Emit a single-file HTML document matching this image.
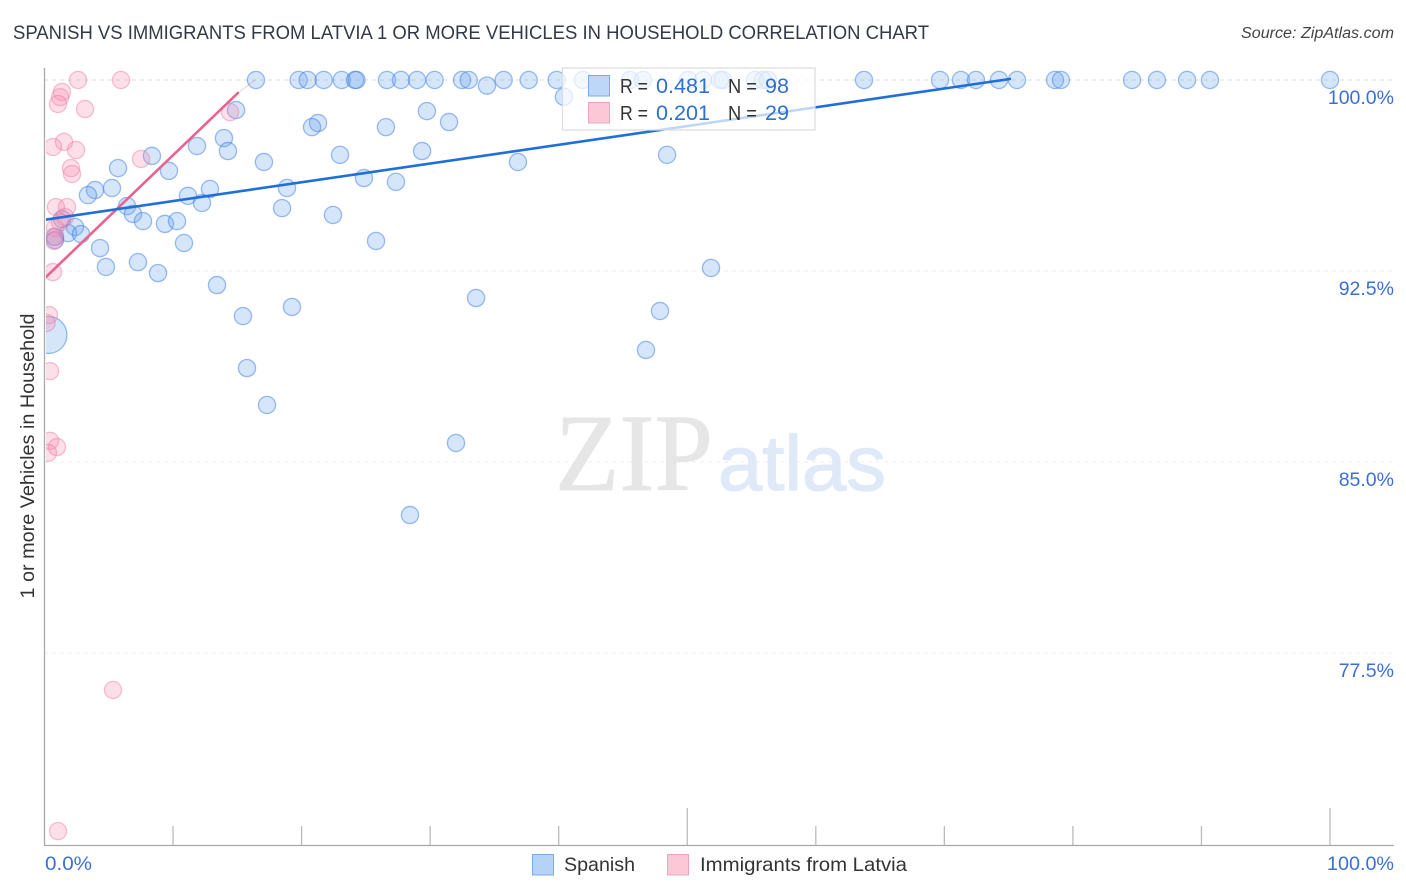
<!DOCTYPE html>
<html lang="en">
<head>
<meta charset="utf-8">
<title>Spanish vs Immigrants from Latvia correlation chart</title>
<style>
html,body{margin:0;padding:0;background:#fff;}
body{width:1406px;height:892px;overflow:hidden;font-family:"Liberation Sans",sans-serif;}
svg{display:block;}
text{font-family:"Liberation Sans",sans-serif;}
</style>
</head>
<body>
<svg id="chart" width="1406" height="892" viewBox="0 0 1406 892" xmlns="http://www.w3.org/2000/svg">
  <defs>
    <clipPath id="plot-clip"><rect x="46" y="60" width="1354" height="785"></rect></clipPath>
  </defs>
  <text x="13" y="39" font-size="19.5" fill="#333a45" textLength="916" lengthAdjust="spacingAndGlyphs">SPANISH VS IMMIGRANTS FROM LATVIA 1 OR MORE VEHICLES IN HOUSEHOLD CORRELATION CHART</text>
  <text x="1394" y="38" font-size="15.5" font-style="italic" fill="#444" text-anchor="end" textLength="153" lengthAdjust="spacingAndGlyphs">Source: ZipAtlas.com</text>

  <g id="grid"></g>

  <g>
    <text x="555" y="490" font-size="110" fill="#e6e6e6" stroke="#e6e6e6" stroke-width="0.8" textLength="158" lengthAdjust="spacingAndGlyphs" style="font-family:'Liberation Serif',serif">ZIP</text>
    <text x="718" y="490" font-size="78" fill="#dfe9f7" stroke="#dfe9f7" stroke-width="1.2" textLength="168" lengthAdjust="spacingAndGlyphs">atlas</text>
  </g>

  <g id="axes">
    <line x1="44.5" y1="68" x2="44.5" y2="845.5" stroke="#aaa" stroke-width="1.3"></line>
    <line x1="44" y1="845.5" x2="1394" y2="845.5" stroke="#aaa" stroke-width="1.3"></line>
  </g>

  <g id="points" clip-path="url(#plot-clip)"></g>
  <g id="trends" clip-path="url(#plot-clip)"></g>

  <text transform="translate(34,456) rotate(-90)" font-size="19" fill="#333" text-anchor="middle" textLength="285" lengthAdjust="spacingAndGlyphs">1 or more Vehicles in Household</text>

  <g>
    <rect x="562.5" y="68" width="252.5" height="62" fill="#fff" fill-opacity="0.72" stroke="#ddd" stroke-width="1.2"></rect>
    <rect x="588.5" y="75.5" width="21" height="20.5" fill="#b5d3f7" fill-opacity="0.9" stroke="#7fabe4"></rect>
    <rect x="588.5" y="102.5" width="21" height="20.5" fill="#fcc8d8" stroke="#f0a3bc"></rect>
    <text x="620" y="93" font-size="20" fill="#333" textLength="28" lengthAdjust="spacingAndGlyphs">R =</text>
    <text x="656" y="93" font-size="21" fill="#2f6fd0" textLength="54" lengthAdjust="spacingAndGlyphs">0.481</text>
    <text x="728" y="93" font-size="20" fill="#333" textLength="29" lengthAdjust="spacingAndGlyphs">N =</text>
    <text x="765" y="93" font-size="21" fill="#2f6fd0" textLength="24" lengthAdjust="spacingAndGlyphs">98</text>
    <text x="620" y="120" font-size="20" fill="#333" textLength="28" lengthAdjust="spacingAndGlyphs">R =</text>
    <text x="656" y="120" font-size="21" fill="#2f6fd0" textLength="54" lengthAdjust="spacingAndGlyphs">0.201</text>
    <text x="728" y="120" font-size="20" fill="#333" textLength="29" lengthAdjust="spacingAndGlyphs">N =</text>
    <text x="765" y="120" font-size="21" fill="#2f6fd0" textLength="24" lengthAdjust="spacingAndGlyphs">29</text>
  </g>

  <g>
    <rect x="532.5" y="854.5" width="21" height="20.5" fill="#b5d3f7" stroke="#7fabe4"></rect>
    <text x="564" y="871" font-size="19.5" fill="#333" textLength="71" lengthAdjust="spacingAndGlyphs">Spanish</text>
    <rect x="667.5" y="854.5" width="21" height="20.5" fill="#fcc8d8" stroke="#f0a3bc"></rect>
    <text x="700" y="871" font-size="19.5" fill="#333" textLength="207" lengthAdjust="spacingAndGlyphs">Immigrants from Latvia</text>
  </g>
</svg>
<script>
var xTickValues = [0, 10, 20, 30, 40, 50, 60, 70, 80, 90, 100];
var xMajorTicks = [50, 100];
var xEndLabels = [0, 100];
var xEndLabelText = ['0.0%', '100.0%'];
var yTickValues = [100, 92.5, 85, 77.5];
var yTickLabels = ['100.0%', '92.5%', '85.0%', '77.5%'];

var spanishX = [16.45, 19.77, 20.47, 21.72, 23.12, 24.15, 24.27, 26.64, 27.73, 28.98, 30.35, 32.48, 33.00, 35.72, 37.67, 39.84, 41.89, 45.55, 46.56, 50.06, 51.23, 52.55, 52.78, 55.27, 55.89, 56.28, 63.75, 69.66, 71.29, 72.46, 74.25, 75.65, 78.61, 79.07, 84.60, 86.54, 88.88, 90.66, 100, 34.42, 40.41, 14.90, 21.28, 20.81, 26.56, 31.47, 29.75, 13.96, 11.86, 14.27, 22.99, 29.37, 8.36, 17.07, 36.83, 48.43, 5.72, 9.68, 24.85, 27.34, 3.93, 3.38, 5.25, 18.86, 11.16, 12.87, 12.25, 18.48, 6.42, 6.88, 7.66, 9.37, 10.31, 22.44, 2.37, 1.83, 2.84, 0.82, 0.82, 1.36, 4.32, 10.85, 25.79, 4.78, 7.27, 8.83, 51.85, 13.42, 33.57, 19.25, 15.44, 47.88, 46.79, 15.75, 17.31, 32.01, 28.43];
var spanishY = [100, 100, 100, 100, 100, 100, 100, 100, 100, 100, 100, 100, 100, 100, 100, 100, 100, 100, 100, 100, 100, 100, 100, 100, 100, 100, 100, 100, 100, 100, 100, 100, 100, 100, 100, 100, 100, 100, 100, 99.78, 99.34, 98.82, 98.31, 98.15, 98.15, 98.35, 98.78, 97.72, 97.41, 97.21, 97.06, 97.21, 97.02, 96.78, 96.78, 97.06, 96.54, 96.43, 96.15, 96.00, 95.68, 95.48, 95.76, 95.76, 95.45, 95.72, 95.17, 94.97, 95.05, 94.74, 94.46, 94.35, 94.46, 94.70, 94.23, 93.99, 93.95, 93.72, 93.84, 94.54, 93.40, 93.60, 93.68, 92.66, 92.85, 92.42, 92.62, 91.95, 91.44, 91.09, 90.73, 90.93, 89.40, 88.69, 87.24, 85.75, 82.92];
var spanishLargeX = [0.31];
var spanishLargeY = [89.99];

var latviaX = [2.61, 5.95, 1.36, 1.21, 1.05, 3.15, 14.43, 1.52, 0.66, 2.45, 7.51, 2.06, 2.14, 0.89, 1.75, 1.59, 0.82, 1.21, 0.74, 0.74, 0.66, 0.35, 0.16, 0.43, 0.43, 0.97, 0.27, 5.33, 1.05];
var latviaY = [100, 100, 99.53, 99.33, 99.06, 98.86, 98.74, 97.57, 97.37, 97.25, 96.90, 96.54, 96.31, 95.01, 95.01, 94.62, 94.19, 94.42, 93.84, 93.68, 92.46, 90.77, 90.46, 88.57, 85.83, 85.59, 85.36, 76.05, 70.51];

var spanishTrendX = [0.12, 75.1];
var spanishTrendY = [94.52, 100.04];
var latviaTrendX = [0.12, 15.05];
var latviaTrendY = [92.27, 99.49];
var latviaTrendTailX = [15.05, 16.37];
var latviaTrendTailY = [99.49, 100];

var NS = 'http://www.w3.org/2000/svg';
function xScale(v) { return 44.5 + v * 12.855; }
function yScale(v) { return 80 + (100 - v) * 25.47; }
function make(tag, parent, attrs) {
  var el = document.createElementNS(NS, tag);
  for (var k in attrs) { el.setAttribute(k, attrs[k]); }
  parent.appendChild(el);
  return el;
}

var gridGroup = document.getElementById('grid');
var axesGroup = document.getElementById('axes');
var pointsGroup = document.getElementById('points');
var trendsGroup = document.getElementById('trends');

yTickValues.forEach(function (v, i) {
  var g = make('line', gridGroup, { x1: 44, x2: 1394, y1: yScale(v), y2: yScale(v), stroke: i === 0 ? '#dcdcdc' : '#ececec', 'stroke-width': 1, 'stroke-dasharray': '4 4' });
  
  
  var t = make('text', axesGroup, { x: 1394, y: yScale(v) + 24, 'font-size': 19.5, fill: '#3b6fd4', 'text-anchor': 'end' });
  t.textContent = yTickLabels[i];
  
  
});

xTickValues.forEach(function (v) {
  if (v === 0) { return; }
  var top = xMajorTicks.indexOf(v) >= 0 ? 808 : 826;
  var tick = make('line', axesGroup, { x1: xScale(v), x2: xScale(v), y1: top, y2: 845, stroke: '#bbb', 'stroke-width': 1.3 });
  
  
});

xEndLabels.forEach(function (v, i) {
  var t = make('text', axesGroup, { x: v === 0 ? 45 : 1394, y: 870, 'font-size': 19.5, fill: '#3b6fd4', 'text-anchor': v === 0 ? 'start' : 'end', textLength: v === 0 ? 47 : 67, lengthAdjust: 'spacingAndGlyphs' });
  t.textContent = xEndLabelText[i];
  
  
});

function drawPoints(xs, ys, r, fill, stroke, name) {
  xs.forEach(function (v, i) {
    var c = make('circle', pointsGroup, { cx: xScale(v), cy: yScale(ys[i]), r: r, fill: fill, stroke: stroke, 'stroke-width': 1.3 });
    
    
  });
}
drawPoints(spanishLargeX, spanishLargeY, 18.5, 'rgba(105,160,238,0.28)', 'rgba(60,125,225,0.5)', 'spanish-point-large');
drawPoints(spanishX, spanishY, 8.6, 'rgba(105,160,238,0.28)', 'rgba(60,125,225,0.5)', 'spanish-point');
drawPoints(latviaX, latviaY, 8.6, 'rgba(248,140,175,0.28)', 'rgba(238,120,160,0.45)', 'latvia-point');

function drawTrend(xs, ys, color, width, name) {
  var l = make('line', trendsGroup, { x1: xScale(xs[0]), y1: yScale(ys[0]), x2: xScale(xs[1]), y2: yScale(ys[1]), stroke: color, 'stroke-width': width, 'stroke-linecap': 'round' });
  
  
}
drawTrend(latviaTrendTailX, latviaTrendTailY, 'rgba(232,100,145,0.35)', 1, 'latvia-trend-tail');
drawTrend(latviaTrendX, latviaTrendY, '#e8648f', 2.6, 'latvia-trend-line');
drawTrend(spanishTrendX, spanishTrendY, '#1f6fd8', 2.6, 'spanish-trend-line');
</script>
</body>
</html>
